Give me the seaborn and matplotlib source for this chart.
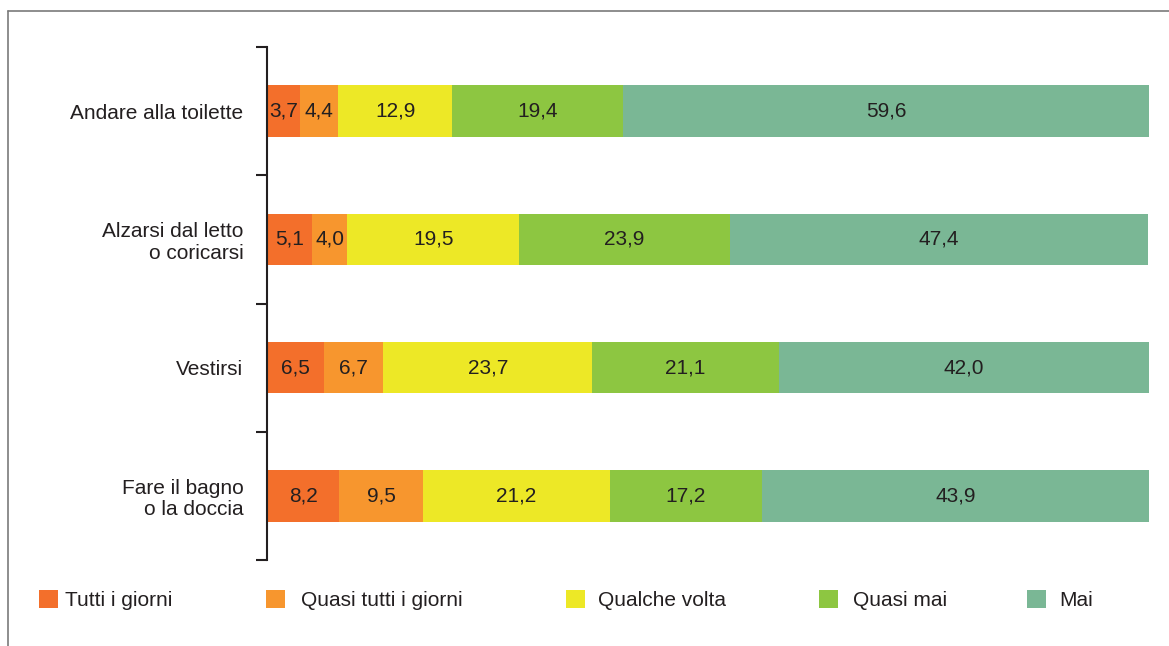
import numpy as np
import pandas as pd
import matplotlib.pyplot as plt
import seaborn as sns
from matplotlib.patches import Patch
from matplotlib.lines import Line2D

# Data (percent values)
activities = ["Andare alla toilette", "Alzarsi dal letto\no coricarsi",
              "Vestirsi", "Fare il bagno\no la doccia"]
frequencies = ["Tutti i giorni", "Quasi tutti i giorni", "Qualche volta", "Quasi mai", "Mai"]
tutti_i_giorni = [3.7, 5.1, 6.5, 8.2]
quasi_tutti = [4.4, 4.0, 6.7, 9.5]
qualche_volta = [12.9, 19.5, 23.7, 21.2]
quasi_mai = [19.4, 23.9, 21.1, 17.2]
mai = [59.6, 47.4, 42.0, 43.9]
colors = ["#f36f2b", "#f7962e", "#ede826", "#8dc641", "#7ab795"]

sns.set_theme(style="white")
plt.rcParams["font.family"] = ["Liberation Sans", "DejaVu Sans"]
text_color = "#231f20"
fs = 15

df = pd.DataFrame({"activity": activities})
series = [tutti_i_giorni, quasi_tutti, qualche_volta, quasi_mai, mai]
for name, vals in zip(frequencies, series):
    df[name] = vals
cum = df[frequencies].cumsum(axis=1)
for name in frequencies:
    df["cum_" + name] = cum[name]

W, H = 1169, 646
fig = plt.figure(figsize=(W / 100, H / 100), dpi=100)
ax = fig.add_axes([267 / W, 1 - 560 / H, 882 / W, (560 - 47) / H])

# stacked bars: draw cumulative totals from the widest down
for name, c in reversed(list(zip(frequencies, colors))):
    sns.barplot(data=df, x="cum_" + name, y="activity", color=c, orient="h",
                width=0.4, saturation=1, linewidth=0, ax=ax)

# value labels
for i in range(len(activities)):
    for name in frequencies:
        v = df.loc[i, name]
        mid = df.loc[i, "cum_" + name] - v / 2
        ax.text(mid, i, f"{v:.1f}".replace(".", ","), ha="center", va="center",
                fontsize=fs, color=text_color)

ax.set_xlim(0, 100)
ax.set_ylim(3.5, -0.5)
ax.set_xlabel("")
ax.set_ylabel("")
ax.set_xticks([])
ax.set_yticks(range(len(activities)))
ax.set_yticklabels(activities, fontsize=fs, color=text_color)
for t in ax.get_yticklabels():
    t.set_linespacing(1.15)
ax.set_yticks(np.arange(-0.5, len(activities)), minor=True)
ax.tick_params(axis="y", which="major", length=0, pad=17)
ax.tick_params(axis="y", which="minor", left=True, length=8, width=1.5, color=text_color)
for s in ["top", "right", "bottom"]:
    ax.spines[s].set_visible(False)
ax.spines["left"].set_color(text_color)
ax.spines["left"].set_linewidth(1.5)

# legend entries at their own positions
sq_x = [39, 266, 566, 819, 1027]
gaps = [7, 16, 13, 15, 13]
fs_px = fs * 100 / 72
for name, c, x, g in zip(frequencies, colors, sq_x, gaps):
    fig.legend(handles=[Patch(facecolor=c, edgecolor="none", label=name)],
               loc="center left", bbox_to_anchor=(x / W, 1 - 600 / H),
               frameon=False, borderpad=0, borderaxespad=0,
               handlelength=19 / fs_px, handleheight=19 / fs_px,
               handletextpad=g / fs_px, fontsize=fs, labelcolor=text_color)

# outer frame (top and left edges)
fig.add_artist(Line2D([8 / W, 1], [1 - 10.5 / H, 1 - 10.5 / H], color="#7a7a7a", lw=1.2))
fig.add_artist(Line2D([8 / W, 8 / W], [0, 1 - 10.5 / H], color="#7a7a7a", lw=1.2))

fig.savefig("out.png", dpi=100)
